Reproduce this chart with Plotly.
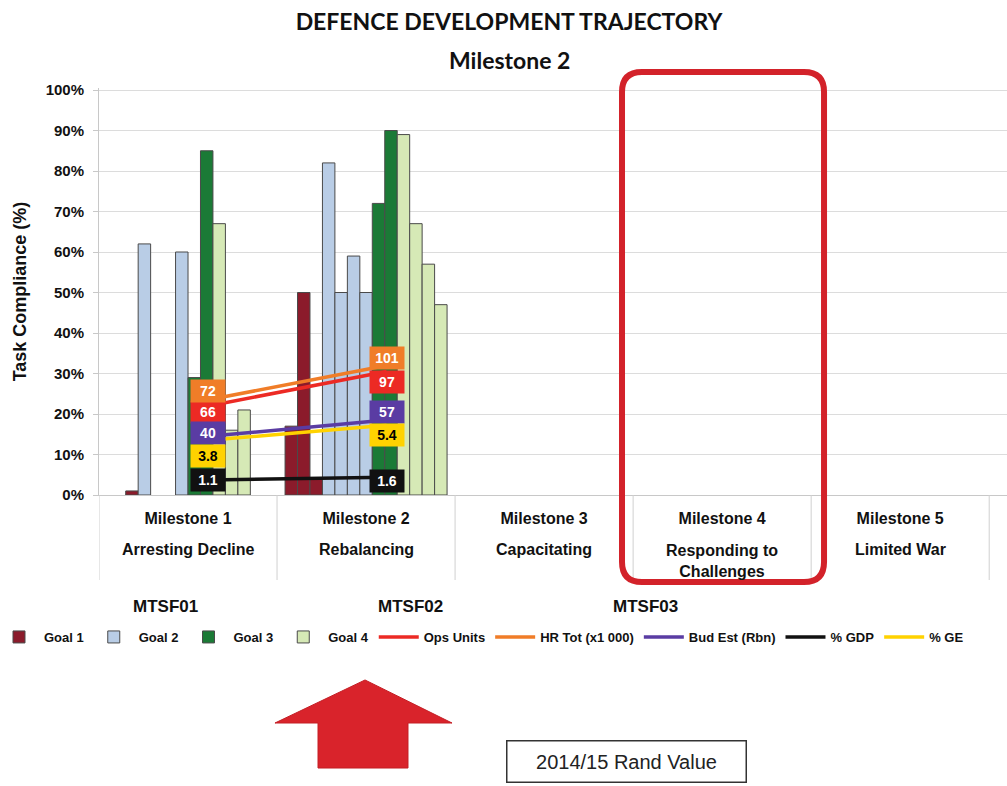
import plotly.graph_objects as go

# categories and labels
milestones = ["Milestone 1", "Milestone 2", "Milestone 3", "Milestone 4", "Milestone 5"]
phases = ["Arresting Decline", "Rebalancing", "Capacitating", "Responding to<br>Challenges", "Limited War"]
periods = ["MTSF01", "MTSF02", "MTSF03"]

goals = ["Goal 1", "Goal 2", "Goal 3", "Goal 4"]
goal_colours = ["#8b1b2b", "#b9cde6", "#1b7a36", "#d6e9b6"]

# bars inside each milestone, left to right (None = empty slot)
m1_goal = ["Goal 1", "Goal 2", None, None, "Goal 2", "Goal 3", "Goal 3", "Goal 4", "Goal 4", "Goal 4"]
m1_value = [1, 62, None, None, 60, 29, 85, 67, 16, 21]
m2_goal = ["Goal 1", "Goal 1", "Goal 1", "Goal 2", "Goal 2", "Goal 2", "Goal 2",
           "Goal 3", "Goal 3", "Goal 4", "Goal 4", "Goal 4", "Goal 4"]
m2_value = [17, 50, 4, 82, 50, 59, 50, 72, 90, 89, 67, 57, 47]

# resource indicators, Milestone 1 -> Milestone 2
indicators = ["Ops Units", "HR Tot (x1 000)", "Bud Est (Rbn)", "% GDP", "% GE"]
ops_units = [66, 97]
hr_tot = [72, 101]
bud_est = [40, 57]
pct_gdp = [1.1, 1.6]
pct_ge = [3.8, 5.4]
# height of each indicator line on the compliance scale
ops_units_y = [22, 30.5]
hr_tot_y = [23.5, 32]
bud_est_y = [14.5, 18.5]
pct_gdp_y = [3.7, 4.4]
pct_ge_y = [13.5, 17.2]
# height of the value boxes
ops_units_box = [20.4, 28]
hr_tot_box = [25.8, 33.9]
bud_est_box = [15.2, 20.4]
pct_gdp_box = [3.7, 3.4]
pct_ge_box = [9.6, 14.7]

line_colours = ["#ec2a24", "#f07d28", "#5a3ca3", "#111111", "#ffd200"]
box_text = ["white", "white", "white", "white", "black"]

W, H = 1007, 786
L, T, PW, PH = 99, 88, 908, 407


def paper(px, py):
    return (px - L) / PW, (T + PH - py) / PH


fig = go.Figure()

# goal bars
slot_w = 0.07
xs = {g: [] for g in goals}
ys = {g: [] for g in goals}
for m_idx, (g_list, v_list) in enumerate([(m1_goal, m1_value), (m2_goal, m2_value)]):
    n = len(g_list)
    for k, (g, v) in enumerate(zip(g_list, v_list)):
        if g is None:
            continue
        xs[g].append(m_idx + (k - (n - 1) / 2) * slot_w)
        ys[g].append(v)

for g, c in zip(goals, goal_colours):
    fig.add_trace(go.Bar(x=xs[g], y=ys[g], width=slot_w, name=g,
                         marker=dict(color=c, line=dict(color="#4a4a4a", width=1))))

# indicator lines and value boxes
values = [ops_units, hr_tot, bud_est, pct_gdp, pct_ge]
line_y = [ops_units_y, hr_tot_y, bud_est_y, pct_gdp_y, pct_ge_y]
box_y = [ops_units_box, hr_tot_box, bud_est_box, pct_gdp_box, pct_ge_box]
shift = 0.115
for name, vals, ly, by, c, tc in zip(indicators, values, line_y, box_y, line_colours, box_text):
    xm = [i + shift for i in range(len(vals))]
    fig.add_trace(go.Scatter(x=xm, y=ly, mode="lines", name=name,
                             line=dict(color=c, width=3.5)))
    for x, y, v in zip(xm, by, vals):
        fig.add_annotation(x=x, y=y, text=str(v), showarrow=False, bgcolor=c,
                           font=dict(family="Liberation Sans", size=14, color=tc, weight="bold"),
                           borderpad=2, width=30, height=18)

lab_font = dict(family="Liberation Sans", size=16, color="#111", weight="bold")

# milestone phase names under the tick labels
for i, p in enumerate(phases):
    two = "<br>" in p
    fig.add_annotation(x=i, y=paper(0, 540 if two else 549)[1], xref="x", yref="paper", text=p,
                       showarrow=False, xanchor="center", yanchor="top" if two else "middle",
                       font=lab_font)

# MTSF periods
for p, px in zip(periods, [165, 410, 645]):
    x, y = paper(px, 606)
    fig.add_annotation(x=x, y=y, xref="paper", yref="paper", text=p, showarrow=False,
                       xanchor="center", yanchor="middle",
                       font=dict(family="Liberation Sans", size=17, color="#111", weight="bold"))

# second title line
sx, sy = paper(509, 60)
fig.add_annotation(x=sx, y=sy, xref="paper", yref="paper", text="Milestone 2", showarrow=False,
                   xanchor="center", yanchor="middle",
                   font=dict(family="Lato", size=23, color="#111", weight="bold"))

# category separators below the axis
for i in range(len(milestones) + 1):
    fig.add_shape(type="line", x0=i - 0.5, x1=i - 0.5, xref="x", yref="paper",
                  y0=0, y1=paper(0, 580)[1], line=dict(color="#d0d0d0", width=1))

# rounded highlight around Milestone 4
x0, x1, y0, y1, r = 622, 824, 72, 582, 20
pts = [("M", x0 + r, y0), ("L", x1 - r, y0), ("Q", x1, y0, x1, y0 + r), ("L", x1, y1 - r),
       ("Q", x1, y1, x1 - r, y1), ("L", x0 + r, y1), ("Q", x0, y1, x0, y1 - r),
       ("L", x0, y0 + r), ("Q", x0, y0, x0 + r, y0)]
path = ""
for p in pts:
    coords = []
    for j in range(1, len(p), 2):
        px, py = paper(p[j], p[j + 1])
        coords.append(f"{px:.4f},{py:.4f}")
    path += p[0] + " " + " ".join(coords) + " "
fig.add_shape(type="path", path=path + "Z", xref="paper", yref="paper",
              line=dict(color="#d3222a", width=6), layer="above")

# red block arrow
arrow = [(365, 680), (452, 723), (408, 723), (408, 768), (318, 768), (318, 723), (275, 723)]
apath = ""
for j, (px, py) in enumerate(arrow):
    ax, ay = paper(px, py)
    apath += ("M " if j == 0 else "L ") + f"{ax:.4f},{ay:.4f} "
fig.add_shape(type="path", path=apath + "Z", xref="paper", yref="paper",
              fillcolor="#d9232b", line=dict(color="#c41e25", width=1))

bx, by = paper(626, 761)
fig.add_annotation(x=bx, y=by, xref="paper", yref="paper", text="2014/15 Rand Value",
                   showarrow=False, xanchor="center", yanchor="middle",
                   bordercolor="#333", borderwidth=1.5, borderpad=6,
                   width=226, height=28, bgcolor="white",
                   font=dict(family="Liberation Sans", size=20, color="#222"))

fig.update_layout(
    width=W, height=H,
    margin=dict(l=L, r=W - L - PW, t=T, b=H - T - PH, autoexpand=False),
    paper_bgcolor="white", plot_bgcolor="white",
    barmode="overlay",
    title=dict(text="DEFENCE DEVELOPMENT TRAJECTORY", x=paper(509, 0)[0], xref="paper",
               y=1 - 22 / H, xanchor="center", yanchor="middle",
               font=dict(family="Lato", size=23, color="#111", weight="bold")),
    legend=dict(orientation="h", x=paper(-6, 0)[0], y=paper(0, 637)[1], xanchor="left",
                yanchor="middle", font=dict(family="Liberation Sans", size=13, color="#111",
                                            weight="bold"),
                itemwidth=40, tracegroupgap=0),
    showlegend=True,
)
fig.update_xaxes(range=[-0.5, 4.6], tickvals=list(range(len(milestones))), ticktext=milestones,
                 showgrid=False, zeroline=False, showline=True, linecolor="#c8c8c8",
                 ticks="", ticklabelstandoff=9, automargin=False, tickfont=lab_font)
fig.update_yaxes(range=[0, 100.5], dtick=10, ticksuffix="%", showgrid=True,
                 gridcolor="#dcdcdc", zeroline=False, showline=True, linecolor="#c8c8c8",
                 ticks="outside", ticklen=5, tickcolor="#c8c8c8", ticklabelstandoff=6,
                 automargin=False,
                 tickfont=dict(family="Liberation Sans", size=15, color="#111", weight="bold"),
                 title=dict(text="Task Compliance (%)", standoff=14,
                            font=dict(family="Liberation Sans", size=18, color="#111",
                                      weight="bold")))

fig.write_html("out.html", config={"displayModeBar": False},
               post_script="document.body.style.margin = '0';")
